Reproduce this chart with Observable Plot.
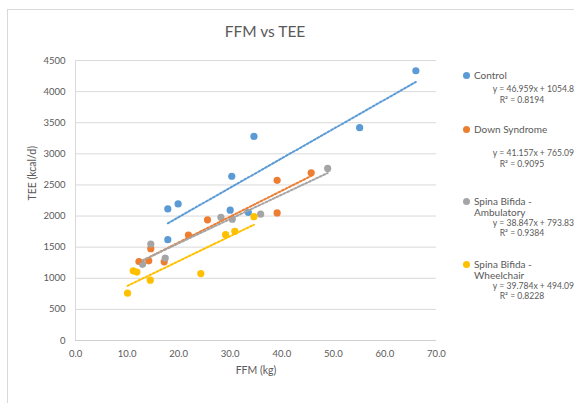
<!DOCTYPE html>
<html>
<head>
<meta charset="utf-8">
<script src="https://cdn.jsdelivr.net/npm/d3@7"></script>
<script src="https://cdn.jsdelivr.net/npm/@observablehq/plot@0.6"></script>
<style>
  html, body { margin: 0; padding: 0; background: #fff; }
  #wrap { position: relative; width: 574px; height: 403px; overflow: hidden; font-family: Lato, "Open Sans", sans-serif; color: #595959; }
  #frame { position: absolute; left: 7px; top: 9px; width: 600px; height: 420px; border-left: 1px solid #d9d9d9; border-top: 1px solid #d9d9d9; box-sizing: border-box; }
  #chart { position: absolute; left: 0; top: 0; }
  .t { position: absolute; white-space: nowrap; line-height: 1; }
  #title { left: 265px; top: 24px; transform: translateX(-50%); font-size: 15.5px; color: #595959; }
  .lg { font-size: 10px; }
  .eq { font-size: 8.6px; }
  .dot { position: absolute; width: 7px; height: 7px; border-radius: 50%; }
</style>
</head>
<body>
<div id="wrap">
  <div id="frame"></div>
  <div id="chart"></div>
  <div id="title" class="t">FFM vs TEE</div>
  <div id="legend"></div>
</div>
<script>
// Series names and colours
const seriesNames = ["Control", "Down Syndrome", "Spina Bifida - Ambulatory", "Spina Bifida - Wheelchair"];
const seriesColors = ["#5B9BD5", "#ED7D31", "#A5A5A5", "#FFC000"];

// Values: FFM (kg) and TEE (kcal/d)
const controlFFM = [66.0, 55.1, 34.6, 30.3, 19.9, 17.9, 30.0, 33.5, 17.9];
const controlTEE = [4335, 3420, 3280, 2640, 2195, 2115, 2095, 2060, 1620];

const downFFM = [45.7, 39.1, 39.1, 25.6, 21.9, 14.6, 12.3, 14.2, 17.2];
const downTEE = [2695, 2575, 2050, 1940, 1695, 1475, 1270, 1280, 1265];

const ambFFM = [48.9, 35.9, 28.2, 30.4, 14.6, 13.0, 17.4];
const ambTEE = [2765, 2030, 1980, 1950, 1550, 1225, 1325];

const wheelFFM = [34.6, 30.9, 29.1, 24.3, 11.2, 11.9, 14.5, 10.1];
const wheelTEE = [1990, 1755, 1700, 1075, 1120, 1100, 970, 760];

// Trendline labels
const equations = ["y = 46.959x + 1054.8", "y = 41.157x + 765.09", "y = 38.847x + 793.83", "y = 39.784x + 494.09"];
const rSquared = ["0.8194", "0.9095", "0.9384", "0.8228"];

// Axis ticks and titles
const xTicks = [0, 10, 20, 30, 40, 50, 60, 70];
const yTicks = [0, 500, 1000, 1500, 2000, 2500, 3000, 3500, 4000, 4500];
const xTitle = "FFM (kg)";
const yTitle = "TEE (kcal/d)";

const seriesX = [controlFFM, downFFM, ambFFM, wheelFFM];
const seriesY = [controlTEE, downTEE, ambTEE, wheelTEE];
const data = seriesNames.flatMap((name, i) => seriesX[i].map((x, j) => ({group: name, ffm: x, tee: seriesY[i][j]})));

// Least-squares trendline over each series' own FFM range
const trend = seriesNames.flatMap((name, i) => {
  const xs = seriesX[i], ys = seriesY[i];
  const mx = d3.mean(xs), my = d3.mean(ys);
  const b = d3.sum(xs, (x, j) => (x - mx) * (ys[j] - my)) / d3.sum(xs, x => (x - mx) ** 2);
  const a = my - b * mx;
  const [x0, x1] = d3.extent(xs);
  return [x0, x1].map(x => ({group: name, ffm: x, tee: a + b * x}));
});

const plot = Plot.plot({
  width: 574,
  height: 403,
  marginLeft: 75,
  marginRight: 138,
  marginTop: 60,
  marginBottom: 63,
  style: {fontFamily: "Lato, 'Open Sans', sans-serif", color: "#595959", background: "transparent"},
  x: {domain: [0, 70]},
  y: {domain: [0, 4500]},
  color: {domain: seriesNames, range: seriesColors},
  marks: [
    Plot.gridY(yTicks, {stroke: "#d9d9d9", strokeOpacity: 1}),
    Plot.ruleX([0], {stroke: "#d9d9d9"}),
    Plot.ruleY([0], {stroke: "#d0d0d0"}),
    Plot.axisY(yTicks, {tickSize: 0, tickPadding: 10, fontSize: 9.5, tickFormat: d3.format("d"), label: null}),
    Plot.axisX(xTicks, {tickSize: 0, tickPadding: 10, fontSize: 9.5, tickFormat: d3.format(".1f"), label: null}),
    Plot.text([xTitle], {frameAnchor: "bottom", dy: 33, fontSize: 10.5, fill: "#595959"}),
    Plot.text([yTitle], {frameAnchor: "left", dx: -43, rotate: -90, fontSize: 10.5, fill: "#595959"}),
    Plot.dot(data, {x: "ffm", y: "tee", fill: "group", r: 3.6}),
    Plot.line(trend, {x: "ffm", y: "tee", stroke: "group", z: "group", strokeWidth: 2, strokeDasharray: "2,2"})
  ]
});
plot.querySelectorAll("text").forEach(t => t.setAttribute("fill", "#595959"));
document.getElementById("chart").appendChild(plot);

// Legend (positions of the blocks)
const legendTop = [75, 129, 201, 264];
const legend = document.getElementById("legend");
seriesNames.forEach((name, i) => {
  const y = legendTop[i];
  const dot = document.createElement("div");
  dot.className = "dot";
  dot.style.left = "463px"; dot.style.top = (y - 3.5) + "px"; dot.style.background = seriesColors[i];
  legend.appendChild(dot);
  const lines = name.startsWith("Spina") ? ["Spina Bifida -", name.split(" - ")[1]] : [name];
  let ly = y;
  lines.forEach((ln) => {
    const d = document.createElement("div");
    d.className = "t lg";
    d.textContent = ln;
    d.style.left = "474px"; d.style.top = (ly - 5.5) + "px";
    legend.appendChild(d);
    ly += 11;
  });
  const eqY = lines.length === 1 ? (i === 0 ? y + 14.5 : y + 24.5) : y + 22;
  const eq = document.createElement("div");
  eq.className = "t eq";
  eq.textContent = equations[i];
  eq.style.right = "0px"; eq.style.top = (eqY - 4.3) + "px";
  legend.appendChild(eq);
  const r2 = document.createElement("div");
  r2.className = "t eq";
  r2.innerHTML = "R\u00B2 = " + rSquared[i];
  r2.style.left = "522px"; r2.style.transform = "translateX(-50%)"; r2.style.top = (eqY + 6) + "px";
  legend.appendChild(r2);
});
</script>
</body>
</html>
